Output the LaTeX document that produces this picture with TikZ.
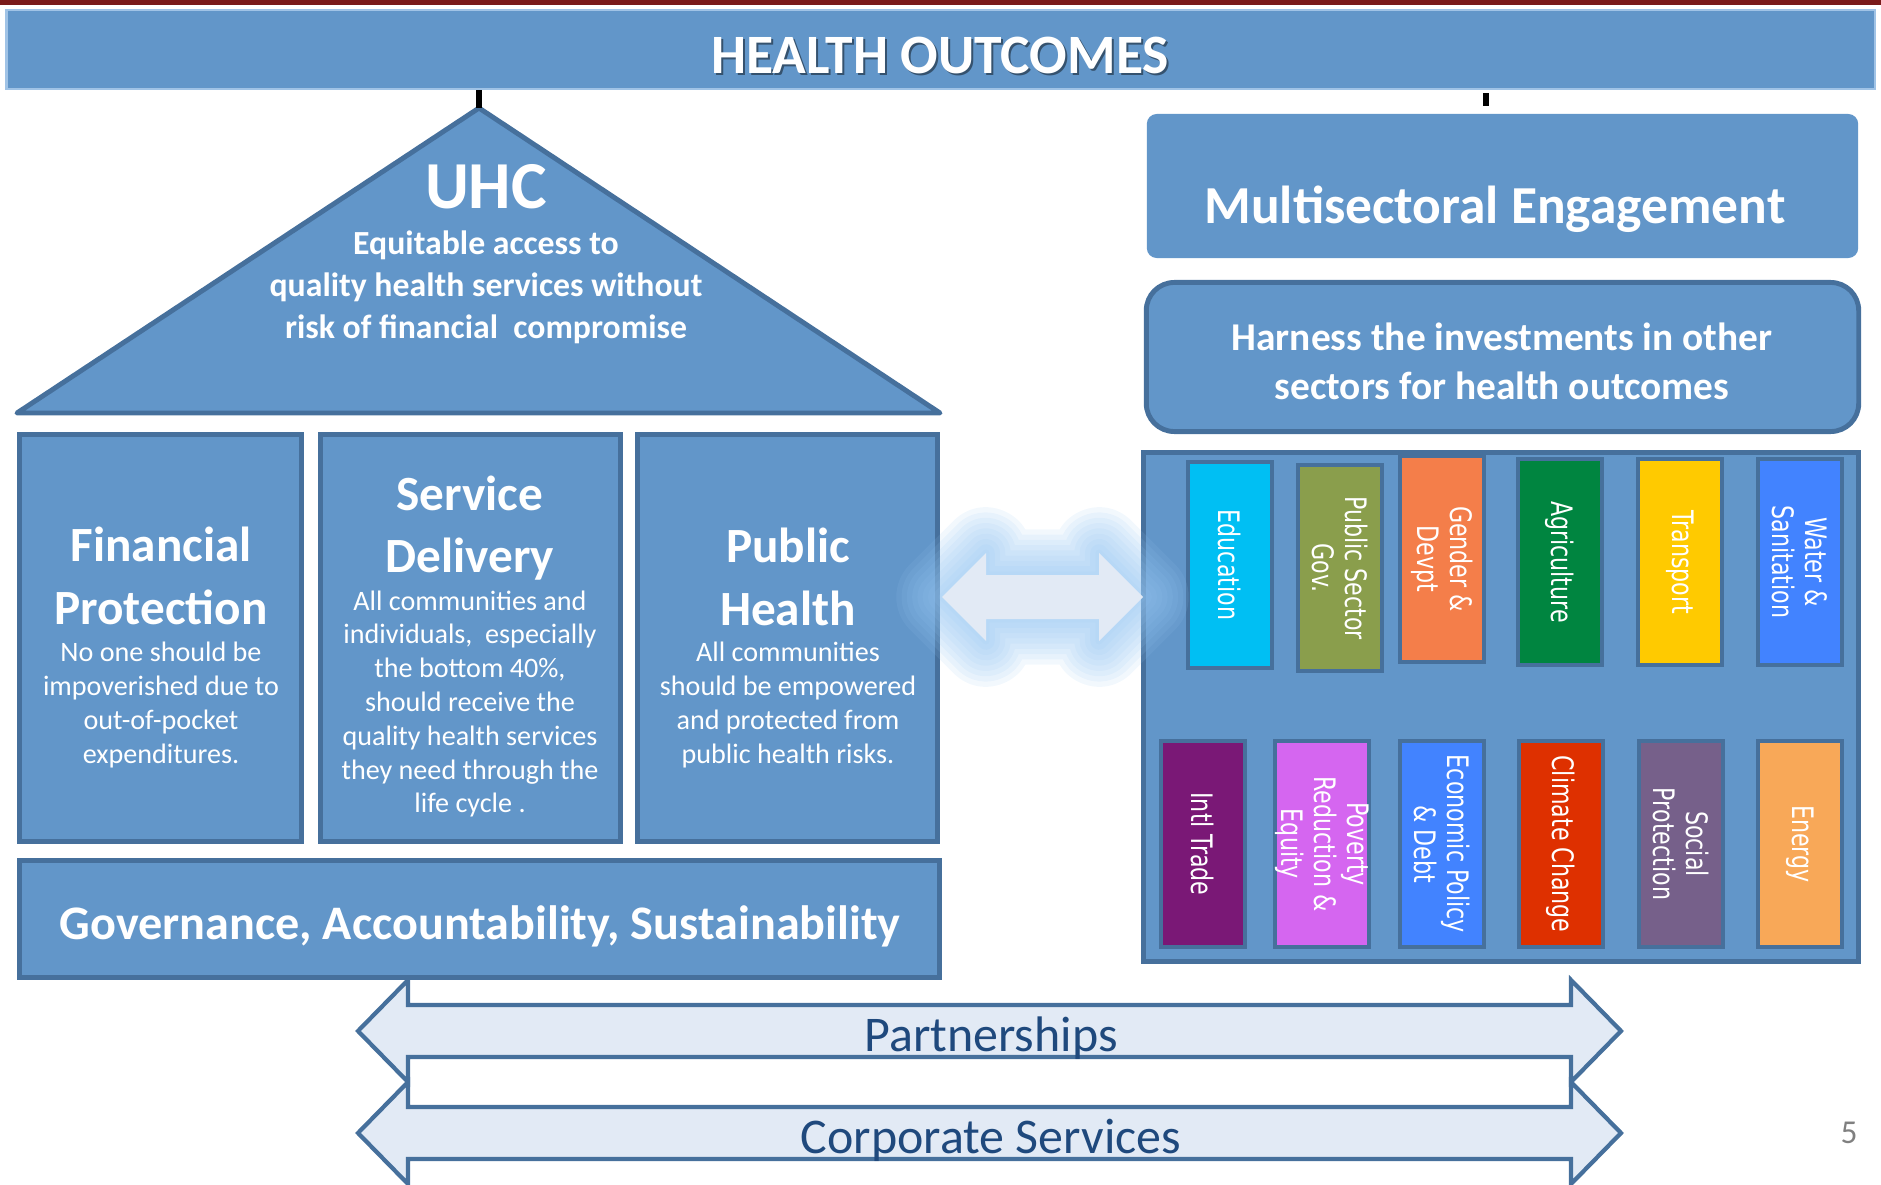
\documentclass[tikz,border=0pt]{standalone}
\usepackage{fontspec}
\setmainfont{Carlito}
\newfontfamily\barfont[FakeStretch=0.75]{DejaVu Sans}
\usepackage{tikz}
\usetikzlibrary{positioning,calc}

\definecolor{slideblue}{RGB}{98,150,201}
\definecolor{edgeblue}{RGB}{70,112,156}
\definecolor{headedge}{RGB}{160,195,230}
\definecolor{paleblue}{RGB}{226,234,245}
\definecolor{glowblue}{RGB}{150,198,242}
\definecolor{navy}{RGB}{31,73,125}
\definecolor{topred}{RGB}{122,26,26}
\definecolor{pagegray}{RGB}{128,128,128}
\definecolor{educ}{RGB}{0,191,243}
\definecolor{pubsec}{RGB}{138,158,76}
\definecolor{gender}{RGB}{244,126,74}
\definecolor{agri}{RGB}{0,133,64}
\definecolor{transp}{RGB}{255,202,0}
\definecolor{water}{RGB}{66,131,255}
\definecolor{trade}{RGB}{122,24,118}
\definecolor{poverty}{RGB}{213,102,240}
\definecolor{econ}{RGB}{66,131,255}
\definecolor{climate}{RGB}{222,48,0}
\definecolor{social}{RGB}{118,96,138}
\definecolor{energy}{RGB}{248,168,88}

\begin{document}
\begin{tikzpicture}[x=0.01cm,y=-0.01cm,
  box/.style={draw=edgeblue,line width=1.4pt,fill=slideblue,inner sep=0pt},
  pillar/.style={box,minimum height=4.07cm},
  ptitle/.style={text=white,align=center,font=\fontsize{14}{17.8}\selectfont\bfseries},
  pbody/.style={text=white,align=center,font=\fontsize{8}{9.6}\selectfont},
  sector/.style={draw=edgeblue,line width=1.2pt,rotate=-90,minimum width=2.06cm,
    minimum height=0.84cm,inner sep=0pt,text=white,align=center,
    font=\barfont\fontsize{8.4}{9.4}\selectfont},
  band/.style={fill=paleblue,draw=edgeblue,line width=1.2pt},
  bandtext/.style={text=navy,font=\fontsize{14.2}{17}\selectfont},
  tick/.style={line width=1.5pt,black}]
  \useasboundingbox (0,0) rectangle (1881,1185);
  \fill[topred] (0,0) rectangle (1881,5);

  \node[box,draw=headedge,line width=0.6pt,minimum width=18.67cm,minimum height=0.79cm] (header) at (940.5,49.5) {};
  \node[text=black,opacity=0.45,font=\fontsize{15.8}{19}\selectfont\bfseries] (headshadow) at (942,57) {HEALTH OUTCOMES};
  \node[text=white,font=\fontsize{15.8}{19}\selectfont\bfseries] (headtext) at (940,55) {HEALTH OUTCOMES};

  \draw[band] (358,1031) -- (408,980) -- (408,1005) -- (1571,1005) -- (1571,980) -- (1621,1031)
    -- (1571,1082) -- (1571,1057) -- (408,1057) -- (408,1082) -- cycle;
  \node[bandtext] (partner) at (991,1038) {Partnerships};
  \draw[band] (358,1133) -- (408,1082) -- (408,1107) -- (1571,1107) -- (1571,1082) -- (1621,1133)
    -- (1571,1184) -- (1571,1159) -- (408,1159) -- (408,1184) -- cycle;
  \node[bandtext] (corporate) at (991,1140) {Corporate Services};

  \coordinate (apex) at (479,108);
  \draw[box,line join=round] (apex) -- (940,413) -- (17,413) -- cycle;
  \draw[tick] (apex) -- (apex |- header.south);
  \node[text=white,font=\fontsize{19.1}{23}\selectfont\bfseries] (uhc) at (486,187) {UHC};
  \node[text=white,align=center,font=\fontsize{9.6}{11.9}\selectfont\bfseries] (uhcbody) at (486,287)
    {Equitable access to\\quality health services without\\risk of financial\ \ compromise};

  \node[pillar,minimum width=2.82cm] (finprot) at (160.5,638) {};
  \node[pillar,minimum width=3.00cm] (servdel) at (470.5,638) {};
  \node[pillar,minimum width=3.00cm] (pubhealth) at (787.5,638) {};
  \node[ptitle] (fintitle) at (161,576) {Financial\\Protection};
  \node[pbody] (finbody) at (161,705) {No one should be\\impoverished due to\\out-of-pocket\\expenditures.};
  \node[ptitle] (servtitle) at (470,528) {Service\\Delivery};
  \node[pbody] (servbody) at (470,704) {All communities and\\individuals,\ \ especially\\the bottom 40\%,\\should receive the\\quality health services\\they need through the\\life cycle .};
  \node[ptitle] (pubtitle) at (788,577) {Public\\Health};
  \node[pbody] (pubbody) at (788,705) {All communities\\should be empowered\\and protected from\\public health risks.};

  \node[box,minimum width=9.20cm,minimum height=1.17cm] (govern) at (479.5,919) {};
  \node[text=white,font=\fontsize{13.7}{16}\selectfont\bfseries] (govtext) at (480,926) {Governance, Accountability, Sustainability};

  \coordinate (mtick) at (1486,106);
  \draw[tick,shorten >=0.03cm] (mtick) -- (mtick |- header.south);
  \node[box,draw=none,rounded corners=0.1cm,minimum width=7.11cm,minimum height=1.44cm] (multi) at (1502.5,186) {};
  \node[text=white,font=\fontsize{15.2}{18}\selectfont\bfseries] (multitext) at (1495,209) {Multisectoral Engagement};
  \node[box,rounded corners=0.28cm,minimum width=7.12cm,minimum height=1.49cm] (harness) at (1502.5,357) {};
  \node[text=white,align=center,font=\fontsize{11.2}{13.9}\selectfont\bfseries] (harntext) at (1502,361)
    {Harness the investments in other\\sectors for health outcomes};

  \node[box,minimum width=7.15cm,minimum height=5.09cm] (panel) at (1501,707) {};
  \node[sector,fill=educ] (education) at (1230,565) {Education};
  \node[sector,fill=pubsec] (pubsector) at (1340,568) {Public Sector\\Gov.};
  \node[sector,fill=gender] (genderdev) at (1442,559) {Gender \&\\Devpt};
  \node[sector,fill=agri] (agriculture) at (1560,562) {Agriculture};
  \node[sector,fill=transp] (transport) at (1680,562) {Transport};
  \node[sector,fill=water] (watersan) at (1800,562) {Water \&\\Sanitation};
  \node[sector,fill=trade] (intltrade) at (1203,844) {Intl Trade};
  \node[sector,fill=poverty] (povred) at (1322,844) {Poverty\\Reduction \&\\Equity};
  \node[sector,fill=econ] (econpol) at (1442,844) {Economic Policy\\\& Debt};
  \node[sector,fill=climate] (climchange) at (1561,844) {Climate Change};
  \node[sector,fill=social] (socprot) at (1681,844) {Social\\Protection};
  \node[sector,fill=energy] (energy) at (1800,844) {Energy};

  \foreach \w in {26,23,...,2}
    \draw[glowblue,opacity=0.12,line width=\w pt,line join=round] (942,597) -- (986,553) -- (986,575)
      -- (1099,575) -- (1099,553) -- (1143,597) -- (1099,641) -- (1099,619) -- (986,619) -- (986,641) -- cycle;
  \fill[paleblue] (942,597) -- (986,553) -- (986,575) -- (1099,575) -- (1099,553) -- (1143,597)
    -- (1099,641) -- (1099,619) -- (986,619) -- (986,641) -- cycle;

  \node[text=pagegray,font=\fontsize{9.5}{11}\selectfont] (pagenum) at (1849,1133) {5};
\end{tikzpicture}
\end{document}
